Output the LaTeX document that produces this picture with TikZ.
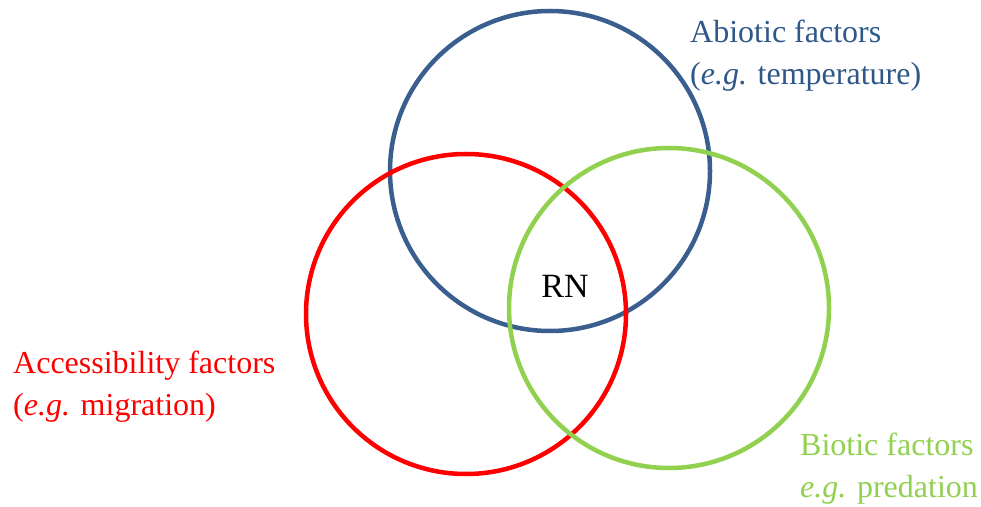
\documentclass[tikz,border=0pt]{standalone}
\usepackage{fontspec}
\setmainfont{Liberation Serif}
\definecolor{abioticblue}{HTML}{3A5F8F}
\definecolor{abiotictext}{HTML}{2F5788}
\definecolor{accessred}{HTML}{FF0000}
\definecolor{bioticgreen}{HTML}{92D050}
\begin{document}
\begin{tikzpicture}[x=1pt,y=1pt,
  ring/.style={circle, draw, line width=4.5pt, minimum size=320pt, inner sep=0pt},
  label/.style={anchor=base west, inner sep=0pt, font=\fontsize{32}{40}\selectfont}]
\useasboundingbox (0,0) rectangle (981,506);
% three overlapping factor circles
\node[ring, draw=abioticblue] (abiotic) at (550,335) {};
\node[ring, draw=accessred] (access) at (466,192) {};
\node[ring, draw=bioticgreen] (biotic) at (669,198) {};
% centre label
\node[anchor=base, inner sep=0pt, font=\fontsize{34}{40}\selectfont] (rn) at (565,208) {RN};
% abiotic labels
\node[label, text=abiotictext] (abl1) at (690,463) {Abiotic factors};
\node[label, text=abiotictext] (abl2) at (690,421) {(\textit{e.g.} temperature)};
% accessibility labels
\node[label, text=accessred] (acl1) at (13,133) {Accessibility factors};
\node[label, text=accessred] (acl2) at (13,91) {(\textit{e.g.} migration)};
% biotic labels
\node[label, text=bioticgreen] (bil1) at (800,51) {Biotic factors};
\node[label, text=bioticgreen] (bil2) at (800,9) {\textit{e.g.} predation};
\end{tikzpicture}
\end{document}
